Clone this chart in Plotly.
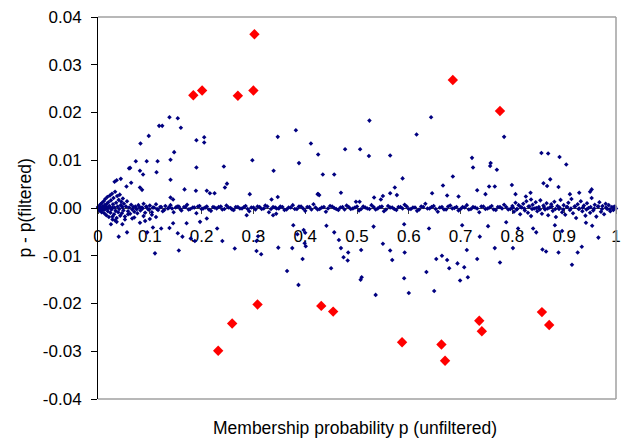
import plotly.graph_objects as go

# Outliers (red diamonds)
red_x = [0.184, 0.201, 0.270, 0.302, 0.300, 0.685, 0.776,
         0.232, 0.259, 0.308, 0.431, 0.454, 0.587, 0.663, 0.670,
         0.736, 0.741, 0.857, 0.871]
red_y = [0.0236, 0.0246, 0.0235, 0.0364, 0.0246, 0.0268, 0.0203,
         -0.0299, -0.0242, -0.0202, -0.0205, -0.0217, -0.0281, -0.0286, -0.0320,
         -0.0236, -0.0258, -0.0218, -0.0245]

# Scattered stars (navy dots away from zero)
scat_x = [0.138, 0.154, 0.118, 0.124, 0.160, 0.098, 0.190, 0.205, 0.205, 0.082,
          0.147, 0.140, 0.073, 0.094, 0.115, 0.298, 0.062, 0.060, 0.081, 0.113,
          0.087, 0.190, 0.243, 0.140, 0.044, 0.036, 0.032, 0.064, 0.249, 0.245,
          0.339, 0.167, 0.189, 0.210, 0.216, 0.225, 0.293, 0.347, 0.382, 0.388,
          0.411, 0.425, 0.425, 0.347, 0.335, 0.140, 0.145, 0.085, 0.081, 0.055,
          0.434, 0.456, 0.477, 0.506, 0.523, 0.524, 0.564, 0.615, 0.643, 0.685,
          0.722, 0.724, 0.758, 0.757, 0.770, 0.784, 0.856, 0.869, 0.891, 0.904,
          0.873, 0.860, 0.867, 0.889, 0.911, 0.929, 0.953, 0.950, 0.799, 0.806,
          0.732, 0.755, 0.766, 0.748, 0.666, 0.645, 0.674, 0.696, 0.588, 0.573,
          0.577, 0.564, 0.550, 0.546, 0.533, 0.469, 0.427, 0.424, 0.498, 0.505,
          0.835, 0.826, 0.836,
          0.110, 0.156, 0.264, 0.306, 0.315, 0.348, 0.375, 0.365, 0.387, 0.395,
          0.401, 0.040, 0.056, 0.095, 0.106, 0.122, 0.138, 0.154, 0.163, 0.179,
          0.187, 0.230, 0.240, 0.309, 0.306, 0.377, 0.385, 0.397, 0.400, 0.025,
          0.036, 0.047, 0.066, 0.081, 0.091, 0.145, 0.171, 0.197, 0.210, 0.287,
          0.338, 0.344, 0.399,
          0.450, 0.441, 0.456, 0.465, 0.469, 0.483, 0.474, 0.482, 0.508, 0.509,
          0.507, 0.536, 0.532, 0.550, 0.564, 0.568, 0.591, 0.592, 0.591, 0.600,
          0.639, 0.634, 0.649, 0.653, 0.664, 0.674, 0.678, 0.694, 0.699, 0.707,
          0.714, 0.712, 0.703, 0.732, 0.737, 0.753, 0.766, 0.776, 0.788, 0.801,
          0.811, 0.846, 0.858, 0.865, 0.889, 0.915, 0.926, 0.934, 0.882, 0.896,
          0.942, 0.954, 0.966, 0.840,
          0.028, 0.033, 0.052, 0.058, 0.070, 0.076, 0.088, 0.100, 0.104, 0.112]
scat_y = [0.0190, 0.0188, 0.0172, 0.0172, 0.0168, 0.0151, 0.0142, 0.0148, 0.0137, 0.0135,
          0.0117, 0.0101, 0.0098, 0.0098, 0.0098, 0.0100, 0.0084, 0.0083, 0.0078, 0.0075,
          0.0070, 0.0085, 0.0087, 0.0059, 0.0061, 0.0058, 0.0055, 0.0053, 0.0051, 0.0043,
          0.0078, 0.0039, 0.0036, 0.0036, 0.0031, 0.0031, 0.0029, 0.0149, 0.0163, 0.0094,
          0.0135, 0.0112, 0.0029, 0.0023, 0.0018, 0.0022, 0.0018, 0.0038, 0.0043, 0.0045,
          0.0070, 0.0070, 0.0123, 0.0123, 0.0109, 0.0183, 0.0110, 0.0154, 0.0190, 0.0066,
          0.0105, 0.0085, 0.0094, 0.0088, 0.0080, 0.0149, 0.0115, 0.0114, 0.0107, 0.0091,
          0.0060, 0.0052, 0.0046, 0.0044, 0.0029, 0.0032, 0.0039, 0.0034, 0.0048, 0.0029,
          0.0037, 0.0045, 0.0045, 0.0029, 0.0047, 0.0031, 0.0026, 0.0024, 0.0062, 0.0043,
          0.0027, 0.0031, 0.0025, 0.0018, 0.0022, 0.0032, 0.0027, 0.0029, 0.0013, 0.0013,
          0.0032, 0.0024, 0.0018,
          -0.0095, -0.0089, -0.0085, -0.0090, -0.0097, -0.0083, -0.0084, -0.0132, -0.0161, -0.0107,
          -0.0080, -0.0060, -0.0051, -0.0051, -0.0041, -0.0043, -0.0042, -0.0053, -0.0060, -0.0064,
          -0.0069, -0.0043, -0.0069, -0.0059, -0.0069, -0.0036, -0.0055, -0.0046, -0.0052, -0.0034,
          -0.0029, -0.0034, -0.0022, -0.0031, -0.0027, -0.0032, -0.0032, -0.0029, -0.0022, -0.0015,
          -0.0015, -0.0012, -0.0074,
          -0.0126, -0.0037, -0.0051, -0.0067, -0.0084, -0.0093, -0.0103, -0.0110, -0.0088, -0.0145,
          -0.0150, -0.0182, -0.0039, -0.0075, -0.0089, -0.0109, -0.0034, -0.0093, -0.0147, -0.0178,
          -0.0043, -0.0134, -0.0174, -0.0107, -0.0100, -0.0109, -0.0126, -0.0116, -0.0152, -0.0124,
          -0.0145, -0.0088, -0.0036, -0.0107, -0.0060, -0.0038, -0.0084, -0.0114, -0.0030, -0.0084,
          -0.0043, -0.0051, -0.0087, -0.0091, -0.0093, -0.0119, -0.0093, -0.0081, -0.0036, -0.0048,
          -0.0031, -0.0037, -0.0062, -0.0043,
          -0.0018, -0.0026, -0.0024, -0.0013, -0.0020, -0.0011, -0.0017, -0.0023, -0.0009, -0.0019]

# Dense band of stars close to zero
band_x = [0.000, 0.002, 0.003, 0.004, 0.005, 0.006, 0.007, 0.008, 0.009, 0.010,
          0.011, 0.012, 0.013, 0.014, 0.015, 0.016, 0.017, 0.018, 0.019, 0.020,
          0.021, 0.022, 0.023, 0.024, 0.025, 0.026, 0.027, 0.028, 0.029, 0.030,
          0.031, 0.032, 0.033, 0.034, 0.035, 0.036, 0.037, 0.038, 0.039, 0.040,
          0.041, 0.042, 0.043, 0.044, 0.045, 0.046, 0.047, 0.048, 0.049, 0.050,
          0.052, 0.054, 0.056, 0.058, 0.060, 0.062, 0.064, 0.066, 0.068, 0.070,
          0.001, 0.004, 0.007, 0.010, 0.013, 0.016, 0.019, 0.022, 0.025, 0.028,
          0.072, 0.075, 0.078, 0.082, 0.085, 0.088, 0.091, 0.094, 0.097, 0.100,
          0.104, 0.108, 0.112, 0.116, 0.120, 0.125, 0.130, 0.135, 0.140, 0.146,
          0.150, 0.156, 0.161, 0.166, 0.172, 0.178, 0.183, 0.190, 0.196, 0.203,
          0.210, 0.218, 0.225, 0.233, 0.240, 0.248, 0.256, 0.262, 0.270, 0.278,
          0.285, 0.292, 0.300, 0.308, 0.316, 0.323, 0.330, 0.338, 0.345, 0.352,
          0.360, 0.368, 0.376, 0.384, 0.392, 0.400, 0.408, 0.416, 0.424, 0.432,
          0.440, 0.448, 0.456, 0.464, 0.472, 0.480, 0.488, 0.496, 0.504, 0.512,
          0.520, 0.528, 0.536, 0.544, 0.552, 0.560, 0.568, 0.576, 0.584, 0.592,
          0.600, 0.608, 0.616, 0.624, 0.632, 0.640, 0.648, 0.656, 0.664, 0.672,
          0.680, 0.688, 0.696, 0.704, 0.712, 0.720, 0.728, 0.736, 0.744, 0.752,
          0.760, 0.768, 0.776, 0.784, 0.792,
          0.800, 0.803, 0.806, 0.809, 0.812, 0.815, 0.818, 0.821, 0.824, 0.827,
          0.830, 0.833, 0.836, 0.839, 0.842, 0.845, 0.848, 0.851, 0.854, 0.857,
          0.860, 0.863, 0.866, 0.869, 0.872, 0.875, 0.878, 0.881, 0.884, 0.887,
          0.890, 0.893, 0.896, 0.899, 0.902, 0.905, 0.908, 0.911, 0.914, 0.917,
          0.920, 0.923, 0.926, 0.929, 0.932, 0.935, 0.938, 0.941, 0.944, 0.947,
          0.950, 0.953, 0.956, 0.959, 0.962, 0.965, 0.968, 0.971, 0.974, 0.977,
          0.980, 0.983, 0.986, 0.989, 0.992, 0.995, 0.998, 1.000,
          0.801, 0.808, 0.816, 0.823, 0.831, 0.838, 0.846, 0.853, 0.861, 0.868,
          0.876, 0.883, 0.891, 0.898, 0.906, 0.913, 0.921, 0.928, 0.936, 0.943,
          0.951, 0.958, 0.966, 0.973, 0.981, 0.988, 0.996,
          0.074, 0.080, 0.086, 0.093, 0.099, 0.106, 0.114, 0.122, 0.128, 0.137,
          0.143, 0.153, 0.159, 0.169, 0.175, 0.186, 0.193, 0.200, 0.207, 0.214,
          0.222, 0.229, 0.237, 0.244, 0.252, 0.259, 0.266, 0.274, 0.282, 0.289,
          0.296, 0.304, 0.312, 0.320, 0.327, 0.334, 0.342, 0.349, 0.356, 0.364,
          0.372, 0.380, 0.388, 0.396, 0.404, 0.412, 0.420, 0.428, 0.436, 0.444,
          0.452, 0.460, 0.468, 0.476, 0.484, 0.492, 0.500, 0.508, 0.516, 0.524,
          0.532, 0.540, 0.548, 0.556, 0.564, 0.572, 0.580, 0.588, 0.596, 0.604,
          0.612, 0.620, 0.628, 0.636, 0.644, 0.652, 0.660, 0.668, 0.676, 0.684,
          0.692, 0.700, 0.708, 0.716, 0.724, 0.732, 0.740, 0.748, 0.756, 0.764,
          0.772, 0.780, 0.788, 0.796]
band_y = [0.0002, -0.0003, 0.0005, -0.0006, 0.0008, 0.0000, -0.0009, 0.0011, 0.0003, -0.0004,
          0.0014, -0.0011, 0.0006, 0.0019, -0.0002, -0.0015, 0.0009, 0.0023, -0.0007, 0.0012,
          -0.0019, 0.0004, 0.0026, -0.0010, 0.0016, -0.0003, 0.0030, -0.0024, 0.0008, 0.0021,
          -0.0013, 0.0001, 0.0034, -0.0006, 0.0011, -0.0021, 0.0025, 0.0003, -0.0009, 0.0017,
          -0.0002, 0.0028, -0.0016, 0.0006, 0.0013, -0.0011, 0.0002, 0.0020, -0.0005, 0.0009,
          -0.0018, 0.0003, 0.0014, -0.0007, 0.0001, -0.0012, 0.0007, -0.0003, 0.0002, -0.0008,
          0.0001, 0.0002, -0.0001, 0.0001, -0.0002, 0.0003, -0.0001, 0.0002, -0.0001, 0.0001,
          0.0003, -0.0002, 0.0006, -0.0005, 0.0001, 0.0009, -0.0010, 0.0002, -0.0003, 0.0005,
          -0.0014, 0.0001, 0.0008, -0.0004, 0.0002, -0.0007, 0.0004, -0.0001, 0.0006, -0.0009,
          0.0001, 0.0003, -0.0005, 0.0002, 0.0007, -0.0002, 0.0001, -0.0011, 0.0004, -0.0001,
          0.0003, -0.0006, 0.0001, 0.0002, -0.0003, 0.0005, 0.0000, -0.0004, 0.0002, -0.0001,
          0.0004, -0.0007, 0.0001, 0.0003, -0.0002, 0.0005, -0.0009, 0.0002, -0.0001, 0.0003,
          -0.0004, 0.0001, 0.0006, -0.0002, 0.0003, -0.0006, 0.0002, 0.0008, -0.0003, 0.0001,
          -0.0008, 0.0004, 0.0000, -0.0004, 0.0002, 0.0005, -0.0002, 0.0001, -0.0005, 0.0003,
          -0.0001, 0.0006, -0.0003, 0.0002, -0.0007, 0.0004, 0.0001, -0.0004, 0.0002, 0.0007,
          -0.0002, 0.0001, -0.0006, 0.0003, 0.0009, -0.0001, 0.0004, -0.0008, 0.0002, -0.0003,
          0.0005, 0.0000, -0.0005, 0.0002, 0.0006, -0.0002, 0.0001, -0.0009, 0.0003, -0.0001,
          0.0004, -0.0004, 0.0002, 0.0007, -0.0003,
          0.0004, -0.0008, 0.0011, -0.0002, 0.0006, -0.0013, 0.0001, 0.0009, -0.0005, 0.0014,
          -0.0010, 0.0003, -0.0017, 0.0007, -0.0001, 0.0012, -0.0007, 0.0002, 0.0016, -0.0012,
          0.0005, -0.0003, 0.0010, -0.0015, 0.0001, 0.0008, -0.0006, 0.0013, -0.0019, 0.0004,
          -0.0002, 0.0017, -0.0009, 0.0006, -0.0014, 0.0002, 0.0011, -0.0004, 0.0019, -0.0011,
          0.0003, -0.0021, 0.0008, -0.0001, 0.0014, -0.0007, 0.0005, -0.0016, 0.0010, 0.0000,
          -0.0010, 0.0021, -0.0005, 0.0007, -0.0018, 0.0003, 0.0012, -0.0008, 0.0004, -0.0013,
          0.0009, -0.0002, 0.0006, -0.0007, 0.0002, -0.0004, 0.0003, -0.0001,
          0.0001, -0.0003, 0.0002, -0.0001, 0.0003, -0.0002, 0.0000, -0.0003, 0.0002, -0.0001,
          0.0003, -0.0002, 0.0001, -0.0003, 0.0002, -0.0001, 0.0003, -0.0002, 0.0001, -0.0003,
          0.0002, -0.0001, 0.0003, -0.0002, 0.0001, -0.0003, 0.0002,
          -0.0002, 0.0002, -0.0001, 0.0003, -0.0003, 0.0001, -0.0002, 0.0002, -0.0004, 0.0001,
          -0.0001, 0.0003, -0.0002, 0.0002, -0.0003, 0.0001, 0.0003, -0.0002, 0.0001, -0.0003,
          0.0002, -0.0001, 0.0003, -0.0002, 0.0001, -0.0003, 0.0002, -0.0001, 0.0002, -0.0002,
          0.0001, -0.0003, 0.0002, -0.0001, 0.0003, -0.0002, 0.0001, -0.0001, 0.0002, -0.0003,
          0.0001, -0.0002, 0.0003, -0.0001, 0.0002, -0.0003, 0.0001, -0.0002, 0.0002, -0.0001,
          0.0003, -0.0002, 0.0001, -0.0003, 0.0002, -0.0001, 0.0003, -0.0002, 0.0001, -0.0002,
          0.0002, -0.0001, 0.0003, -0.0003, 0.0001, -0.0002, 0.0002, -0.0001, 0.0003, -0.0002,
          0.0001, -0.0003, 0.0002, -0.0001, 0.0002, -0.0002, 0.0001, -0.0003, 0.0003, -0.0001,
          0.0002, -0.0002, 0.0001, -0.0003, 0.0002, -0.0001, 0.0003, -0.0002, 0.0001, -0.0003,
          0.0002, -0.0001, 0.0002, -0.0002]

x_tickvals = [0, 0.1, 0.2, 0.3, 0.4, 0.5, 0.6, 0.7, 0.8, 0.9, 1.0]
x_ticktext = ["0", "0.1", "0.2", "0.3", "0.4", "0.5", "0.6", "0.7", "0.8", "0.9", "1"]
y_tickvals = [0.04, 0.03, 0.02, 0.01, 0.0, -0.01, -0.02, -0.03, -0.04]
y_ticktext = ["0.04", "0.03", "0.02", "0.01", "0.00", "-0.01", "-0.02", "-0.03", "-0.04"]

FONT = "Liberation Sans, Arial, sans-serif"

fig = go.Figure()
fig.add_trace(go.Scatter(
    x=band_x + scat_x, y=band_y + scat_y, mode="markers",
    marker=dict(symbol="diamond", size=3.5, color="#000080", line=dict(width=0)),
    showlegend=False, hoverinfo="skip", cliponaxis=False))
fig.add_trace(go.Scatter(
    x=red_x, y=red_y, mode="markers",
    marker=dict(symbol="diamond", size=8, color="#ff0000", line=dict(width=0)),
    showlegend=False, hoverinfo="skip"))

fig.update_layout(
    width=622, height=440,
    margin=dict(l=98, r=6, t=17, b=41, autoexpand=False),
    paper_bgcolor="white", plot_bgcolor="white",
    font=dict(family=FONT, size=17, color="black"),
    xaxis=dict(
        range=[0, 1], tickvals=x_tickvals, ticktext=x_ticktext,
        anchor="free", position=0.5, showgrid=False, zeroline=False,
        showline=True, linecolor="#404040", linewidth=1,
        ticks="outside", ticklen=5, tickcolor="#404040", ticklabelstandoff=8,
        tickfont=dict(size=17), layer="below traces", automargin=False,
    ),
    yaxis=dict(
        range=[-0.04, 0.04], tickvals=y_tickvals, ticktext=y_ticktext,
        showgrid=False, zeroline=False,
        showline=True, linecolor="black", linewidth=1,
        ticks="outside", ticklen=6, tickcolor="black", ticklabelstandoff=6,
        tickfont=dict(size=17), automargin=False,
    ),
    shapes=[
        dict(type="line", xref="paper", yref="paper", x0=0, x1=1, y0=1, y1=1,
             line=dict(color="#a0a0a0", width=1.5)),
        dict(type="line", xref="paper", yref="paper", x0=1, x1=1, y0=0, y1=1,
             line=dict(color="#a0a0a0", width=1.5)),
        dict(type="line", xref="paper", yref="paper", x0=0, x1=1, y0=0, y1=0,
             line=dict(color="#a0a0a0", width=1.5)),
    ],
    annotations=[
        dict(text="Membership probability p (unfiltered)", xref="paper", yref="paper",
             x=0.497, y=-0.076, xanchor="center", yanchor="middle", showarrow=False,
             font=dict(size=17.5)),
        dict(text="p - p(filtered)", xref="paper", yref="paper", textangle=-90,
             x=-0.14, y=0.5, xanchor="center", yanchor="middle", showarrow=False,
             font=dict(size=17.5)),
    ],
)

fig.write_html("out.html", post_script="document.body.style.margin='0';",
               config={"displayModeBar": False})
